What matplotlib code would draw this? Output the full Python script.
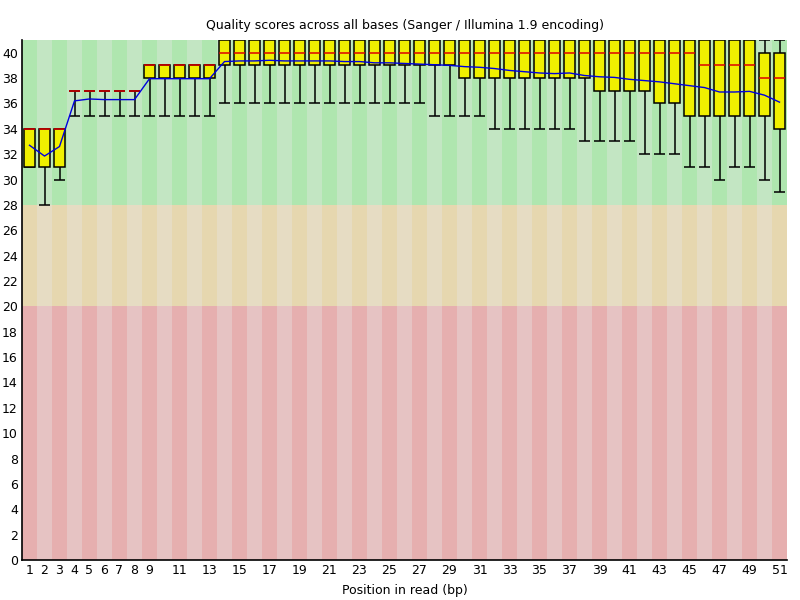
import matplotlib
matplotlib.use('Agg')
import matplotlib.pyplot as plt
from matplotlib.patches import Rectangle
import numpy as np

# per-base quality summary
positions = list(range(1, 52))
medians = [34]*3 + [37]*5 + [39]*5 + [40]*32 + [39]*4 + [38]*2
lower_q = [31]*3 + [37]*5 + [38]*5 + [39]*16 + [38]*9 + [37]*4 + [36]*2 + [35]*6 + [34]
upper_q = [34]*3 + [37]*5 + [39]*5 + [41]*36 + [40]*2
lower_w = [31, 28, 30] + [35]*10 + [36]*14 + [35]*4 + [34]*6 + [33]*4 + [32]*3 + [31, 31, 30, 31, 31, 30, 29]
upper_w = [34]*3 + [37]*5 + [39]*5 + [41]*38
means = [32.7, 31.85, 32.6, 36.2, 36.35, 36.3, 36.3, 36.3, 37.95, 37.95,
         37.95, 37.95, 37.95, 39.3, 39.35, 39.35, 39.4, 39.35, 39.35, 39.35,
         39.35, 39.3, 39.3, 39.2, 39.2, 39.15, 39.1, 39.05, 39.0, 38.9,
         38.85, 38.75, 38.6, 38.5, 38.4, 38.35, 38.4, 38.2, 38.1, 38.05,
         37.9, 37.8, 37.7, 37.55, 37.4, 37.25, 36.9, 36.9, 36.95, 36.65, 36.1]

x_labels = [str(p) if (p < 10 or p % 2 == 1) else '' for p in positions]
y_ticks = list(range(0, 41, 2))

# background zones: (low, high, dark colour, light colour)
zones = [(28, 41, '#afe6af', '#c3e6c3'),
         (20, 28, '#e6d7af', '#e6dcc3'),
         (0, 20, '#e6afaf', '#e6c3c3')]

plt.rcParams['font.family'] = 'DejaVu Sans'
fig = plt.figure(figsize=(8, 6), dpi=100)
ax = fig.add_axes([22/800, 40/600, 765/800, 520/600])

for p in positions:
    for lo, hi, dark, light in zones:
        ax.add_patch(Rectangle((p - 0.5, lo), 1, hi - lo,
                               facecolor=dark if p % 2 == 1 else light,
                               edgecolor='none', zorder=0))

bw = 0.75
lw = 1.1
for i, p in enumerate(positions):
    # whiskers
    ax.vlines(p, lower_w[i], lower_q[i], color='black', lw=lw, zorder=2)
    ax.vlines(p, upper_q[i], upper_w[i], color='black', lw=lw, zorder=2)
    ax.hlines([lower_w[i], upper_w[i]], p - bw/2, p + bw/2, color='black', lw=lw, zorder=2)
    # box
    ax.add_patch(Rectangle((p - bw/2, lower_q[i]), bw, upper_q[i] - lower_q[i],
                           facecolor='#f0f000', edgecolor='black', lw=lw, zorder=3))
    ax.hlines(medians[i], p - bw/2, p + bw/2, color='#dd0000', lw=lw, zorder=4)

ax.plot(positions, means, color='#0000dd', lw=1.0, zorder=5)

ax.set_xlim(0.5, 51.5)
ax.set_ylim(0, 41)
ax.set_xticks(positions)
ax.set_xticklabels(x_labels)
ax.set_yticks(y_ticks)
ax.tick_params(length=0, labelsize=9, pad=3)
for s in ['top', 'right']:
    ax.spines[s].set_visible(False)
for s in ['left', 'bottom']:
    ax.spines[s].set_linewidth(1.2)
    ax.spines[s].set_zorder(6)

ax.set_title('Quality scores across all bases (Sanger / Illumina 1.9 encoding)',
             fontsize=9, pad=8)
ax.set_xlabel('Position in read (bp)', fontsize=9, labelpad=5)

fig.savefig('out.png', dpi=100)
